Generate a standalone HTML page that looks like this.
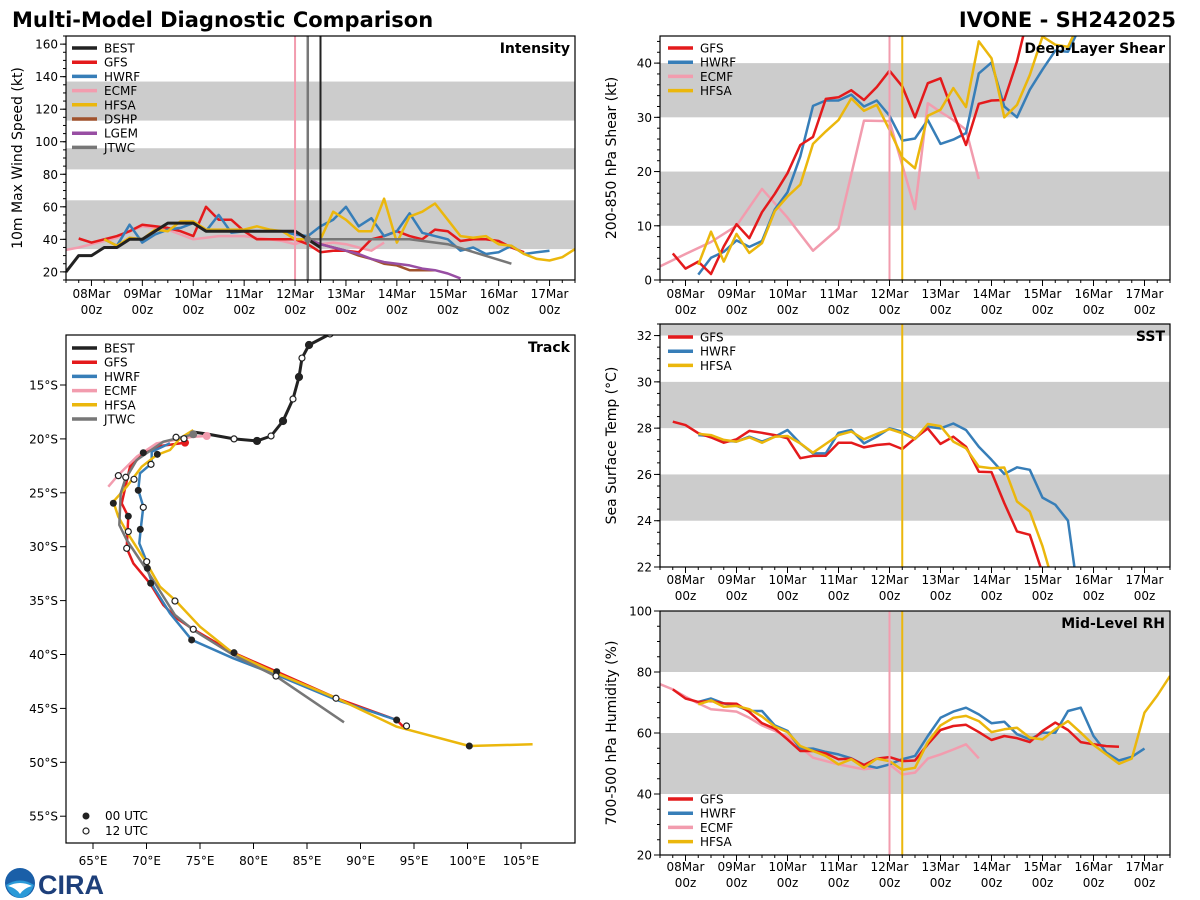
<!DOCTYPE html>
<html><head><meta charset="utf-8"><style>
html,body{margin:0;padding:0;background:#fff;}
svg{display:block;font-family:"DejaVu Sans","Liberation Sans",sans-serif;}
</style></head><body>
<svg id="chart" width="1200" height="900" viewBox="0 0 1200 900" xmlns="http://www.w3.org/2000/svg">
<text x="12" y="27" font-size="21" font-weight="bold" fill="#000">Multi-Model Diagnostic Comparison</text>
<text x="1176" y="27" font-size="21" font-weight="bold" text-anchor="end" fill="#000">IVONE - SH242025</text>
<g>
<circle cx="20" cy="883" r="15" fill="#1a5fa8"/>
<path d="M6 885 Q20 876 34 885 Q30 897 20 898 Q10 897 6 885Z" fill="#2a9ad8"/>
<path d="M8 886 Q20 880 32 886 Q24 888 20 894 Q16 888 8 886Z" fill="#fff"/>
<text x="38" y="894" font-size="27" font-weight="bold" fill="#1d3f7a" font-family="Liberation Sans,sans-serif">CIRA</text>
</g>
<g id="panels"></g>
</svg>
<script>
// ---------- DATA ----------
const dayLabels=["08Mar","09Mar","10Mar","11Mar","12Mar","13Mar","14Mar","15Mar","16Mar","17Mar"];
// intensity (kt); series start index in 6h steps relative to 08Mar00z
const intBestStart=-2;
const intBest=[20,30,30,35,35,40,40,45,50,50,50,45,45,45,45,45,45,45,45,40,35];
const intGfsStart=-1;
const intGfs=[40.5,38,40,42,45,49,48,47,45,42,60,52,52,45,40,40,40,40,37,32,33,33,32,40,42,45,42,40,46,45,39,40,40,39,35,32];
const intHwrfStart=1;
const intHwrf=[40,36,49,38,43,46,47,50,45,55,44,45,45,45,45,43,42,48,52,60,48,53,42,45,56,44,42,40,33,35,31,32,36,31,32,33];
const intEcmfStart=-2;
const intEcmf=[33.5,35,37,39,41,45,48,47,46,43,40,41,42,42,42,41,40,39,37,40,37,38,37,35,33,38];
const intHfsaStart=1;
const intHfsa=[40,36,41,40,46,45,51,51,46,46,46,46,48,46,45,40,40,40,57,52,45,45,65,38,54,57,62,52,42,41,42,37,36,31,28,27,29,34];
const intDshpStart=17;
const intDshp=[40,37,35,33,30,28,25,24,21,21,21];
const intLgemStart=17;
const intLgem=[40,37,35,33,31,28,26,25,24,22,21,19,16];
const intJtwcDays=[4.25,4.5,5,6,6.25,7,8.25];
const intJtwc=[40,40,40,40,40,37,25];
// shear (kt)
const shGfsStart=-1;
const shGfs=[4.9,2.1,3.4,1.1,6.2,10.3,7.7,12.5,15.9,19.7,24.9,26.4,33.4,33.7,35,33.2,35.6,38.6,35.7,30,36.3,37.2,30.8,24.9,32.5,33.1,33.2,40.3,50,55];
const shHwrfStart=1;
const shHwrf=[1.0,4.1,5.2,7.3,6.1,7.2,13,16.2,22.8,32.1,33.1,33.1,34.2,32,33.1,30.3,25.7,26.1,29.5,25.1,25.9,27.1,38.1,40.1,32,30,35.1,38.8,42.3,42.1,47];
const shEcmfDays=[-0.5,0,0.5,1,1.5,2,2.5,3,3.5,4,4.5,4.75,5,5.25,5.5,5.75];
const shEcmf=[2.5,4.8,7,10,16.8,11.5,5.4,9.5,29.4,29.3,13.1,32.6,31,29.5,27.7,18.6];
const shHfsaStart=1;
const shHfsa=[2.8,8.9,3.4,8.5,5,6.8,12.7,15.4,17.6,25.1,27.4,29.5,33.5,31.2,32.3,27.7,22.6,20.6,30.3,31.4,35.4,31.9,44,40.9,30,32.3,37.8,44.9,43.4,43,48];
// SST (C)
const sstGfsStart=-1;
const sstGfs=[28.28,28.13,27.78,27.6,27.37,27.52,27.88,27.8,27.7,27.56,26.7,26.8,26.81,27.37,27.37,27.17,27.27,27.32,27.1,27.56,27.99,27.32,27.63,27.2,26.12,26.1,24.76,23.54,23.39,21.74,20];
const sstHwrfStart=1;
const sstHwrf=[27.7,27.66,27.46,27.42,27.63,27.42,27.63,27.92,27.34,26.91,26.91,27.8,27.92,27.34,27.63,27.99,27.85,27.53,28.06,27.99,28.2,27.92,27.2,26.63,26.02,26.31,26.2,25,24.69,24,20];
const sstHfsaStart=1;
const sstHfsa=[27.75,27.7,27.49,27.42,27.6,27.37,27.63,27.66,27.34,26.94,27.32,27.7,27.85,27.52,27.75,27.96,27.78,27.53,28.18,28.09,27.42,27.13,26.34,26.27,26.3,24.83,24.4,22.9,21];
// RH (%)
const rhGfsStart=-1;
const rhGfs=[74.3,71.3,70.2,70.5,69.7,69.6,66.9,63.2,61.4,57.9,54.1,54.1,53.3,51.4,51.6,49.5,51.6,52.1,50.8,51,56.3,61,62.3,62.7,60.3,57.7,59,58.3,57,60.7,63.4,61,57,56.3,55.7,55.5];
const rhHwrfStart=1;
const rhHwrf=[70.2,71.3,69.7,68.9,67.2,67.2,62.5,60.7,54.9,54.9,53.8,53,51.7,49.5,48.6,49.7,51.4,52.5,59,65,67,68.3,66.1,63.2,63.7,59.6,57.9,60.1,60.1,67.2,68.3,59,53.6,51,52.2,54.9];
const rhEcmfStart=-2;
const rhEcmf=[76,74.3,71.9,69.7,67.8,67.4,67,65,62.5,60.7,58.7,55.4,51.9,50.8,49.7,48.9,48.1,48.6,49.7,46.4,47,51.6,53,54.6,56.3,51.7];
const rhHfsaStart=1;
const rhHfsa=[69.4,70.7,68.6,68.9,67.8,65.4,62.1,60.3,55.7,54.1,52.5,49.7,51.4,48.6,51.6,50.8,47.9,48.6,57,62.5,65,65.6,63.9,60.3,61.2,61.7,58.5,57.9,61.2,63.9,60.1,56.1,53,49.9,51.6,66.7,72.3,78.7];
// Track (lon E, lat S)
const bestLon=[88.6,87.15,85.19,84.53,84.25,83.69,82.76,81.64,80.33,78.18,75.65,74.35];
const bestLat=[9.9,10.27,11.29,12.5,14.26,16.3,18.34,19.73,20.19,20.0,19.55,19.36];
const bestMk=[-1,0,1,0,1,0,1,0,1,0,-1,-1];
const gfsLon=[73.6,71.26,69.7,68.46,67.68,68.3,68.15,68.3,68.77,70.33,71.57,72.82,74.37,78.11,82.17,87.78,93.38,94.0];
const gfsLat=[20.35,20.66,21.4,22.58,25.97,27.22,30.15,30.46,31.54,33.4,35.41,36.64,37.66,39.83,41.6,44.06,46.08,46.7];
const hwrfLon=[72.2,70.49,70.49,69.39,69.23,69.7,69.46,69.33,70.02,70.07,70.64,72.2,74.22,78.11,82.17,87.78,93.38];
const hwrfLat=[20.41,21.19,22.26,23.19,24.74,26.29,28.39,29.68,31.39,32.0,33.71,36.18,38.65,40.35,41.9,44.22,46.08];
const ecmfLon=[75.63,74.37,70.95,69.08,67.36,66.43];
const ecmfLat=[19.73,19.8,20.41,21.65,23.35,24.43];
const hfsaLon=[74.37,73.13,72.2,70.95,69.55,68.15,66.9,67.36,68.15,70.02,71.26,72.66,75.0,78.11,82.17,87.78,93.38,100.16,106.08];
const hfsaLat=[19.17,19.94,21.03,21.49,22.58,24.43,25.83,27.22,28.61,31.54,33.71,34.94,37.42,39.89,41.74,44.06,46.7,48.49,48.33];
const jtwcLon=[74.37,71.57,69.08,67.99,67.59,67.46,68.15,70.02,72.66,74.37,78.11,82.17,88.46];
const jtwcLat=[19.57,20.26,21.96,23.81,25.05,27.99,29.38,32.16,36.34,37.73,40.05,42.06,46.29];
const openLon=[67.37,68.06,68.83,70.42,69.7,68.3,68.15,70.02,72.66,74.37,82.1,87.71,94.3,72.76,73.5];
const openLat=[23.41,23.56,23.75,22.36,26.35,28.6,30.15,31.39,35.04,37.66,42.0,44.06,46.63,19.85,19.98];
const filledLon=[69.7,71.01,69.23,66.9,68.3,69.42,70.08,70.39,74.22,78.18,82.17,93.38,100.17];
const filledLat=[21.28,21.43,24.77,25.97,27.17,28.39,32.0,33.39,38.65,39.83,41.6,46.08,48.49];
const lonTicks=[65,70,75,80,85,90,95,100,105];
const latTicks=[15,20,25,30,35,40,45,50,55];

// ---------- DRAW ----------
const NS="http://www.w3.org/2000/svg";
const root=document.getElementById('panels');
const C={BEST:"#222222",GFS:"#e41a1c",HWRF:"#377eb8",ECMF:"#f29cae",HFSA:"#ebb70c",DSHP:"#a0522d",LGEM:"#984ea3",JTWC:"#777777"};
function el(tag,attrs,parent){const e=document.createElementNS(NS,tag);for(const k in attrs)e.setAttribute(k,attrs[k]);(parent||root).appendChild(e);return e;}
function txt(s,attrs,parent){const e=el('text',attrs,parent);e.textContent=s;return e;}
let clipN=0;
function tsPanel(name,x0,x1,y0,y1,ymin,ymax,bands,yt,minorStep,ylabel,title,xlabY){
  const g=el('g',{});
  
  
  const X=d=>x0+(d+0.5)/10*(x1-x0);
  const Y=v=>y1-(v-ymin)/(ymax-ymin)*(y1-y0);
  const id='c'+(clipN++);
  const cp=el('clipPath',{id:id},g);el('rect',{x:x0,y:y0,width:x1-x0,height:y1-y0},cp);
  bands.forEach(b=>{const r=el('rect',{x:x0,y:Y(Math.min(b[1],ymax)),width:x1-x0,height:Y(b[0])-Y(Math.min(b[1],ymax)),fill:"#cccccc"},g);
    });
  const pg=el('g',{'clip-path':'url(#'+id+')'},g);
  for(let k=-2;k<=38;k++){const x=X(k*0.25);el('line',{x1:x,x2:x,y1:y1,y2:y1+(k%4==0?6:3),stroke:"#000","stroke-width":1},g);}
  dayLabels.forEach((l,i)=>{const t1=txt(l,{x:X(i),y:xlabY,'font-size':12,'text-anchor':'middle'},g);
    
    txt('00z',{x:X(i),y:xlabY+16,'font-size':12,'text-anchor':'middle'},g);});
  for(let v=Math.ceil(ymin/minorStep)*minorStep;v<=ymax;v+=minorStep){el('line',{x1:x0-3,x2:x0,y1:Y(v),y2:Y(v),stroke:"#000"},g);}
  yt.forEach(v=>{el('line',{x1:x0-6,x2:x0,y1:Y(v),y2:Y(v),stroke:"#000"},g);
    const t=txt(String(v),{x:x0-8,y:Y(v)+4.5,'font-size':12,'text-anchor':'end'},g);
    });
  const yl=txt(ylabel,{x:0,y:0,'font-size':14,'text-anchor':'middle',transform:`translate(${x0-44},${(y0+y1)/2}) rotate(-90)`},g);
  
  const tt=txt(title,{x:x1-5,y:y0+17,'font-size':14,'font-weight':'bold','text-anchor':'end'},g);
  
  return {g,pg,X,Y,x0,x1,y0,y1};
}
function seriesIdx(P,start,vals,col,nm,w){
  const pts=vals.map((v,i)=>P.X((start+i)*0.25).toFixed(1)+','+P.Y(v).toFixed(1)).join(' ');
  const p=el('polyline',{points:pts,fill:'none',stroke:col,'stroke-width':w||2.5,'stroke-linejoin':'round'},P.pg);
  
}
function seriesDays(P,days,vals,col,nm,w){
  const pts=vals.map((v,i)=>P.X(days[i]).toFixed(1)+','+P.Y(v).toFixed(1)).join(' ');
  const p=el('polyline',{points:pts,fill:'none',stroke:col,'stroke-width':w||2.5,'stroke-linejoin':'round'},P.pg);
  
}
function vline(P,d,col,w){const l=el('line',{x1:P.X(d),x2:P.X(d),y1:P.y0,y2:P.y1,stroke:col,'stroke-width':w||2},P.pg);
  }
function legend(parent,x,y,names){
  names.forEach((n,i)=>{const gy=y+i*14.2;
    const lg=el('g',{},parent);
    
    
    el('line',{x1:x,x2:x+25,y1:gy,y2:gy,stroke:C[n],'stroke-width':3.5},lg);
    txt(n,{x:x+32,y:gy+4.5,'font-size':12},lg);});
}
function frame(P){const r=el('rect',{x:P.x0,y:P.y0,width:P.x1-P.x0,height:P.y1-P.y0,fill:'none',stroke:'#000','stroke-width':1.2},P.g);
  }

// Intensity
const PI=tsPanel('intensity',66,575,36,280,15,165,[[34,64],[83,96],[113,137]],[20,40,60,80,100,120,140,160],5,'10m Max Wind Speed (kt)','Intensity',298);
seriesIdx(PI,intEcmfStart,intEcmf,C.ECMF,'ecmf');
seriesIdx(PI,intGfsStart,intGfs,C.GFS,'gfs');
seriesIdx(PI,intHwrfStart,intHwrf,C.HWRF,'hwrf');
seriesIdx(PI,intHfsaStart,intHfsa,C.HFSA,'hfsa');
seriesIdx(PI,intDshpStart,intDshp,C.DSHP,'dshp');
seriesIdx(PI,intLgemStart,intLgem,C.LGEM,'lgem');
seriesDays(PI,intJtwcDays,intJtwc,C.JTWC,'jtwc');
seriesIdx(PI,intBestStart,intBest,C.BEST,'best',3);
vline(PI,4,C.ECMF,2);vline(PI,4.25,'#777',2.5);vline(PI,4.5,'#222',2);
el('circle',{cx:PI.X(4.25),cy:PI.Y(40),r:3.5,fill:'#777'},PI.pg);
frame(PI);legend(PI.g,72,48,['BEST','GFS','HWRF','ECMF','HFSA','DSHP','LGEM','JTWC']);

// Shear
const PS=tsPanel('shear',660,1170,36,280,0,45,[[10,20],[30,40]],[0,10,20,30,40],2,'200-850 hPa Shear (kt)','Deep-Layer Shear',298);
seriesDays(PS,shEcmfDays,shEcmf,C.ECMF,'ecmf');
seriesIdx(PS,shHwrfStart,shHwrf,C.HWRF,'hwrf');
seriesIdx(PS,shGfsStart,shGfs,C.GFS,'gfs');
seriesIdx(PS,shHfsaStart,shHfsa,C.HFSA,'hfsa');
vline(PS,4,C.ECMF,2);vline(PS,4.25,C.HFSA,2);
frame(PS);legend(PS.g,668,48,['GFS','HWRF','ECMF','HFSA']);

// SST
const PT=tsPanel('sst',660,1170,324,567,22,32.5,[[24,26],[28,30],[32,33]],[22,24,26,28,30,32],0.5,'Sea Surface Temp (°C)','SST',584);
seriesIdx(PT,sstHwrfStart,sstHwrf,C.HWRF,'hwrf');
seriesIdx(PT,sstGfsStart,sstGfs,C.GFS,'gfs');
seriesIdx(PT,sstHfsaStart,sstHfsa,C.HFSA,'hfsa');
vline(PT,4.25,C.HFSA,2);
frame(PT);legend(PT.g,668,337,['GFS','HWRF','HFSA']);

// RH
const PR=tsPanel('rh',660,1170,611,855,20,100,[[40,60],[80,100]],[20,40,60,80,100],5,'700-500 hPa Humidity (%)','Mid-Level RH',871);
seriesIdx(PR,rhEcmfStart,rhEcmf,C.ECMF,'ecmf');
seriesIdx(PR,rhHwrfStart,rhHwrf,C.HWRF,'hwrf');
seriesIdx(PR,rhGfsStart,rhGfs,C.GFS,'gfs');
seriesIdx(PR,rhHfsaStart,rhHfsa,C.HFSA,'hfsa');
vline(PR,4,C.ECMF,2);vline(PR,4.25,C.HFSA,2);
frame(PR);legend(PR.g,668,799,['GFS','HWRF','ECMF','HFSA']);

// Track
(function(){
  const x0=66,x1=575,y0=335,y1=843;
  const g=el('g',{});
  
  
  const LX=lon=>93+(lon-65)*10.7;
  const LY=lat=>385+(lat-15)*10.78;
  const cp=el('clipPath',{id:'ctrack'},g);el('rect',{x:x0,y:y0,width:x1-x0,height:y1-y0},cp);
  const pg=el('g',{'clip-path':'url(#ctrack)'},g);
  lonTicks.forEach(v=>{el('line',{x1:LX(v),x2:LX(v),y1:y1,y2:y1+6,stroke:'#000'},g);
    const t=txt(v+'°E',{x:LX(v),y:y1+22,'font-size':12,'text-anchor':'middle'},g);
    });
  latTicks.forEach(v=>{el('line',{x1:x0-6,x2:x0,y1:LY(v),y2:LY(v),stroke:'#000'},g);
    const t=txt(v+'°S',{x:x0-8,y:LY(v)+4.5,'font-size':12,'text-anchor':'end'},g);
    });
  function trk(lons,lats,col,nm,w){
    const p=el('polyline',{points:lons.map((v,i)=>LX(v).toFixed(1)+','+LY(lats[i]).toFixed(1)).join(' '),fill:'none',stroke:col,'stroke-width':w||2.5,'stroke-linejoin':'round'},pg);
    }
  trk(ecmfLon,ecmfLat,C.ECMF,'ecmf');
  trk(gfsLon,gfsLat,C.GFS,'gfs');
  trk(hwrfLon,hwrfLat,C.HWRF,'hwrf');
  trk(hfsaLon,hfsaLat,C.HFSA,'hfsa');
  trk(jtwcLon,jtwcLat,C.JTWC,'jtwc');
  trk(bestLon,bestLat,C.BEST,'best',3);
  el('circle',{cx:LX(gfsLon[0]),cy:LY(gfsLat[0]),r:4,fill:C.GFS},pg);
  el('circle',{cx:LX(ecmfLon[0]),cy:LY(ecmfLat[0]),r:4,fill:C.ECMF},pg);
  el('circle',{cx:LX(jtwcLon[0]),cy:LY(jtwcLat[0]),r:4,fill:C.JTWC},pg);
  filledLon.forEach((v,i)=>{const c=el('circle',{cx:LX(v),cy:LY(filledLat[i]),r:3.5,fill:'#222'},pg);
    });
  openLon.forEach((v,i)=>{const c=el('circle',{cx:LX(v),cy:LY(openLat[i]),r:3,fill:'#fff',stroke:'#222','stroke-width':1.2},pg);
    });
  bestLon.forEach((v,i)=>{if(bestMk[i]<0)return;
    const c=el('circle',{cx:LX(v),cy:LY(bestLat[i]),r:bestMk[i]?3.5:3,fill:bestMk[i]?'#222':'#fff',stroke:'#222','stroke-width':1.2},pg);
    });
  const r=el('rect',{x:x0,y:y0,width:x1-x0,height:y1-y0,fill:'none',stroke:'#000','stroke-width':1.2},g);
  
  const tt=txt('Track',{x:x1-5,y:y0+17,'font-size':14,'font-weight':'bold','text-anchor':'end'},g);
  
  legend(g,72,348,['BEST','GFS','HWRF','ECMF','HFSA','JTWC']);
  el('circle',{cx:86,cy:816,r:3.5,fill:'#222'},g);
  txt('00 UTC',{x:105,y:820,'font-size':12},g);
  el('circle',{cx:86,cy:831,r:3,fill:'#fff',stroke:'#222','stroke-width':1.2},g);
  txt('12 UTC',{x:105,y:835,'font-size':12},g);
})();
</script>
</body></html>
